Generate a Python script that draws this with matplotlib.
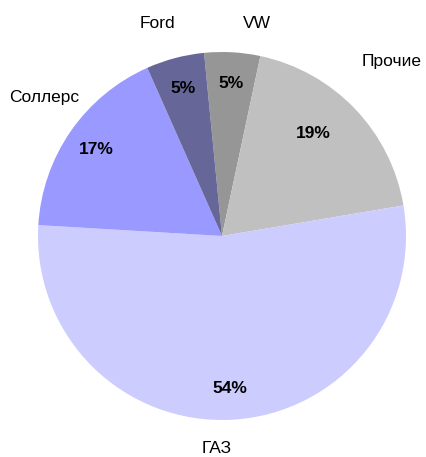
import matplotlib
matplotlib.use("Agg")
import matplotlib.pyplot as plt

plt.rcParams['font.family'] = ['Liberation Sans Narrow', 'Liberation Sans', 'DejaVu Sans']

# market share, clockwise from the top
brands = ['VW', 'Прочие', 'ГАЗ', 'Соллерс', 'Ford']
shares = [4.9, 19.0, 53.6, 17.4, 5.1]
colors = ['#969696', '#c0c0c0', '#ccccff', '#9999ff', '#666699']

fig = plt.figure(figsize=(4.26, 4.57), dpi=100)
ax = fig.add_axes([38 / 426, 37 / 457, 368 / 426, 368 / 457])

wedges, texts, pcts = ax.pie(shares, labels=brands, colors=colors, startangle=95.6,
                             counterclock=False, autopct='%.0f%%', pctdistance=0.83,
                             labeldistance=1.17, radius=1,
                             textprops={'fontsize': 12.5})

# small pixel nudges so labels sit where excel put them (radius = 184 px)
label_nudge = [(23, -2), (14, 26), (-17, 2), (-1, 16), (-10, 4)]
pct_nudge = [(0, 0), (-19, -3), (0, 0), (0, 0), (0, 0)]
for t, (dx, dy) in zip(texts, label_nudge):
    x, y = t.get_position()
    t.set_position((x + dx / 184, y + dy / 184))
    t.set_ha('center')
    t.set_va('center')
for p, (dx, dy) in zip(pcts, pct_nudge):
    x, y = p.get_position()
    p.set_position((x + dx / 184, y + dy / 184))
    p.set_fontweight('bold')

ax.set_xlim(-1, 1)
ax.set_ylim(-1, 1)
ax.set_aspect('equal')
ax.axis('off')

fig.savefig('out.png', dpi=100)
